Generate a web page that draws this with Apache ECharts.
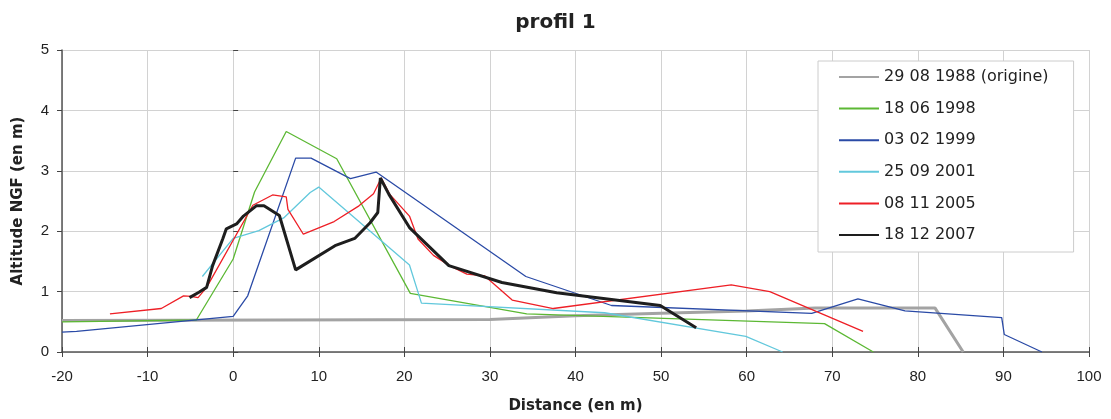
<!DOCTYPE html>
<html>
<head>
<meta charset="utf-8">
<script src="https://cdn.jsdelivr.net/npm/echarts@6/dist/echarts.min.js"></script>
<style>html,body{margin:0;padding:0;background:#fff;}#c{width:1111px;height:419px;}</style>
</head>
<body>
<div id="c"></div>
<script>
const seriesNames = ['29 08 1988 (origine)', '18 06 1998', '03 02 1999', '25 09 2001', '08 11 2005', '18 12 2007'];
const s1988 = [[-20,0.52],[30,0.54],[40,0.60],[50,0.64],[60,0.68],[68,0.73],[82,0.73],[85.3,0]];
const s1998 = [[-20,0.50],[-4.3,0.53],[0,1.54],[2.5,2.65],[6.2,3.65],[12.1,3.2],[20.7,0.97],[34.3,0.63],[69.1,0.47],[74.8,0]];
const s1999 = [[-20,0.33],[-18.3,0.34],[0,0.59],[1.7,0.93],[7.3,3.21],[9.1,3.21],[13.7,2.87],[16.7,2.98],[34.2,1.25],[44.2,0.77],[67.6,0.64],[73.0,0.88],[78.5,0.68],[89.8,0.57],[90.1,0.29],[94.5,0]];
const s2001 = [[-3.6,1.25],[0,1.88],[3,2.01],[5.9,2.22],[9,2.64],[10,2.73],[20.6,1.44],[22,0.81],[43.4,0.65],[59.9,0.26],[64.2,0]];
const s2005 = [[-14.4,0.63],[-8.4,0.72],[-5.8,0.93],[-4.9,0.92],[-4.1,0.90],[-3.1,1.07],[2.3,2.43],[4.6,2.6],[6.2,2.57],[6.4,2.36],[8.2,1.95],[11.8,2.16],[14.7,2.42],[16.4,2.62],[17.3,2.88],[18.3,2.61],[20.6,2.25],[21.6,1.87],[23.4,1.6],[25.3,1.43],[27.3,1.29],[29.4,1.26],[32.6,0.86],[37.4,0.72],[58.2,1.11],[62.7,1.0],[73.6,0.34]];
const s2007 = [[-5.1,0.9],[-4,0.99],[-3.1,1.07],[-2.4,1.43],[-1.2,1.88],[-0.8,2.04],[0.4,2.12],[1.2,2.25],[2.7,2.42],[3.6,2.42],[5.4,2.26],[7.3,1.36],[11.9,1.76],[14.2,1.88],[16,2.14],[16.9,2.31],[17.2,2.88],[18.2,2.61],[20.6,2.06],[25.2,1.43],[31.4,1.15],[37.8,0.98],[49.9,0.77],[54.1,0.40]];
const allData = [s1988, s1998, s1999, s2001, s2005, s2007];
const colors = ['#a3a3a3', '#5cb834', '#2a4aa6', '#62c8dc', '#ee1f26', '#1e1e1e'];
const widths = [3, 1.3, 1.3, 1.3, 1.3, 3];

const chart = echarts.init(document.getElementById('c'), null, {renderer: 'canvas'});
const axisFont = {fontFamily: 'Liberation Sans', fontSize: 15, color: '#222'};
chart.setOption({
  animation: false,
  backgroundColor: '#fff',
  title: {
    text: 'profil 1', left: 'center', top: 8,
    textStyle: {fontFamily: 'DejaVu Sans', fontWeight: 'bold', fontSize: 20, color: '#222'}
  },
  grid: {left: 62, right: 22, top: 50, bottom: 66, containLabel: false},
  legend: {
    orient: 'vertical', left: 818, top: 61,
    padding: [8, 25, 9, 20],
    itemWidth: 40, itemHeight: 14, itemGap: 15.6,
    backgroundColor: '#fff', borderColor: '#cccccc', borderWidth: 1,
    itemStyle: {opacity: 0},
    textStyle: {fontFamily: 'DejaVu Sans', fontSize: 16, color: '#222'},
    data: seriesNames
  },
  xAxis: [{
    type: 'value', min: -20, max: 100, interval: 10,
    name: 'Distance (en m)', nameLocation: 'middle', nameGap: 47,
    nameTextStyle: {fontFamily: 'DejaVu Sans', fontWeight: 'bold', fontSize: 15, color: '#222'},
    axisLine: {show: true, onZero: false, lineStyle: {color: '#555', width: 1.5}},
    axisTick: {show: true, length: 5, lineStyle: {color: '#444'}},
    axisLabel: Object.assign({margin: 17}, axisFont),
    splitLine: {show: true, lineStyle: {color: '#d2d2d2', width: 1}}
  }, {
    type: 'value', min: -20, max: 100, interval: 10, position: 'bottom',
    axisLine: {show: false}, axisLabel: {show: false}, splitLine: {show: false},
    axisTick: {show: true, inside: true, length: 5, lineStyle: {color: '#444'}}
  }],
  yAxis: [{
    type: 'value', min: 0, max: 5, interval: 1,
    name: 'Altitude NGF (en m)', nameLocation: 'middle', nameGap: 36,
    nameTextStyle: {fontFamily: 'DejaVu Sans', fontWeight: 'bold', fontSize: 15, color: '#222'},
    axisLine: {show: true, onZero: false, lineStyle: {color: '#555', width: 1.5}},
    axisTick: {show: true, length: 5, lineStyle: {color: '#444'}},
    axisLabel: Object.assign({margin: 13}, axisFont),
    splitLine: {show: true, lineStyle: {color: '#d2d2d2', width: 1}}
  }, {
    type: 'value', min: 0, max: 5, interval: 1, position: 'left',
    axisLine: {show: false}, axisLabel: {show: false}, splitLine: {show: false},
    axisTick: {show: true, inside: true, length: 5, lineStyle: {color: '#444'}}
  }],
  series: seriesNames.map((n, i) => ({
    name: n, type: 'line', data: allData[i], symbol: 'none', showSymbol: false,
    xAxisIndex: 0, yAxisIndex: 0, z: i === 0 ? 2 : 3 + i,
    color: colors[i],
    lineStyle: {color: colors[i], width: widths[i]},
    itemStyle: {color: colors[i]}
  }))
});
</script>
</body>
</html>
